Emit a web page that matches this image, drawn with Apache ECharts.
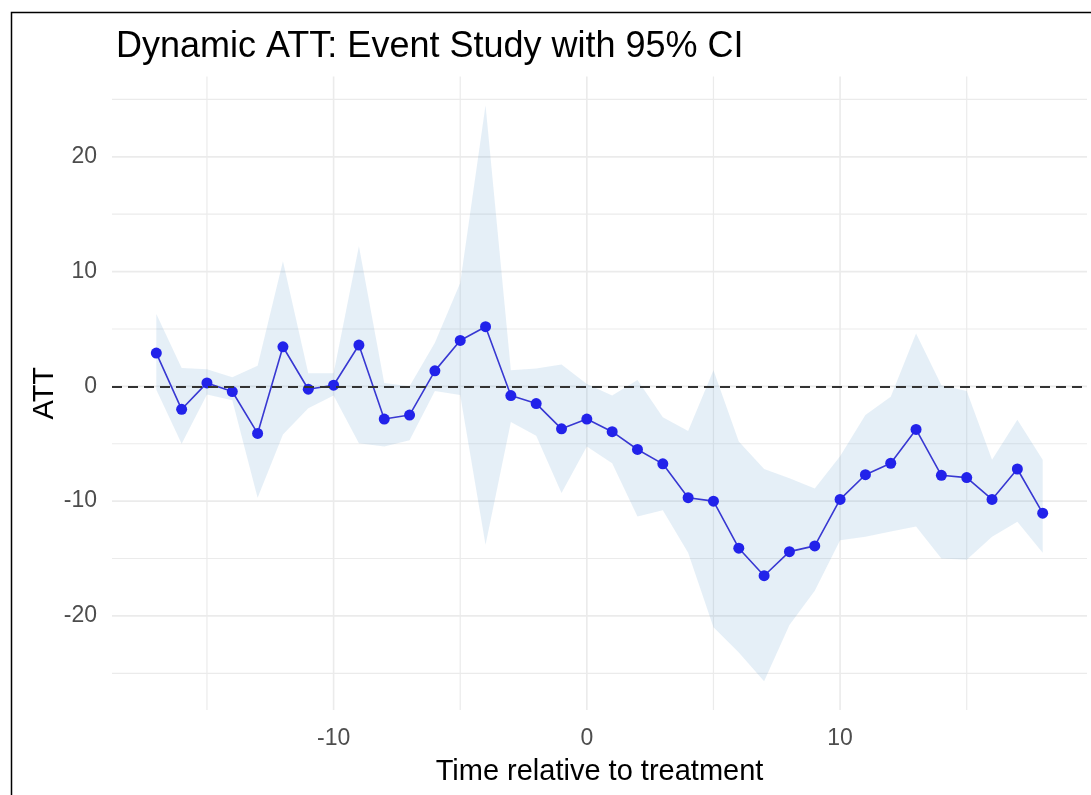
<!DOCTYPE html>
<html>
<head>
<meta charset="utf-8">
<script src="https://cdn.jsdelivr.net/npm/echarts@6/dist/echarts.min.js"></script>
<style>
html,body{margin:0;padding:0;background:#fff;}
#chart{width:1091px;height:795px;}
</style>
</head>
<body>
<div id="chart"></div>
<script>
// ---- data ----
const periods = [-17,-16,-15,-14,-13,-12,-11,-10,-9,-8,-7,-6,-5,-4,-3,-2,-1,0,1,2,3,4,5,6,7,8,9,10,11,12,13,14,15,16,17,18];
const att = [2.9,-2.0,0.3,-0.45,-4.1,3.45,-0.25,0.1,3.6,-2.85,-2.5,1.35,4.0,5.2,-0.8,-1.5,-3.7,-2.85,-3.95,-5.5,-6.75,-9.7,-10.0,-14.1,-16.5,-14.4,-13.9,-9.85,-7.7,-6.7,-3.75,-7.75,-7.95,-9.85,-7.2,-11.05];
const ciUpper = [6.3,1.6,1.5,0.8,1.8,10.9,1.15,1.15,12.2,0.3,0.0,3.8,9.0,24.5,1.4,1.55,1.9,0.2,-0.8,0.55,-2.7,-3.9,1.4,-4.8,-7.2,-8.0,-8.9,-6.1,-2.5,-0.9,4.6,0.1,-0.4,-6.4,-2.9,-6.4];
const ciLower = [-0.3,-5.0,-0.7,-1.2,-9.7,-4.2,-1.9,-0.8,-4.95,-5.25,-4.7,-0.4,-0.75,-13.8,-3.1,-4.3,-9.3,-5.25,-6.7,-11.35,-10.8,-14.5,-21.0,-23.2,-25.7,-20.8,-17.8,-13.4,-13.1,-12.65,-12.2,-15.0,-15.1,-13.1,-11.8,-14.5];
const xTicks = [-10, 0, 10];
const yTicks = [-20, -10, 0, 10, 20];
const xGridMajor = [-10, 0, 10];
const xGridMinor = [-15, -5, 5, 15];
const yGridMajor = [-20, -10, 0, 10, 20];
const yGridMinor = [-25, -15, -5, 5, 15, 25];
const referenceLine = 0;
const xRange = [-18.75, 19.75];
const yRange = [-28.2, 27];

// ---- build ----
const FONT = '"Liberation Sans", Arial, sans-serif';
const chart = echarts.init(document.getElementById('chart'), null, {renderer: 'canvas'});

const gridData = [];
yGridMajor.forEach(v => gridData.push(['h', v, 1.6]));
yGridMinor.forEach(v => gridData.push(['h', v, 1.2]));
xGridMajor.forEach(v => gridData.push(['v', v, 1.6]));
xGridMinor.forEach(v => gridData.push(['v', v, 1.2]));

const ribbonData = periods.map((t, i) => [t, ciLower[i], ciUpper[i]]);
const attPts = att.map((a, i) => [periods[i], a]);

const option = {
  animation: false,
  backgroundColor: '#ffffff',
  title: {
    text: 'Dynamic ATT: Event Study with 95% CI',
    left: 111, top: 24,
    textStyle: {fontFamily: FONT, fontSize: 36, fontWeight: 'normal', color: '#000000'}
  },
  grid: {left: 112, right: 4, top: 76.5, bottom: 85, containLabel: false},
  xAxis: {
    type: 'value', min: xRange[0], max: xRange[1],
    name: 'Time relative to treatment', nameLocation: 'middle', nameGap: 47,
    nameMoveOverlap: false,
    nameTextStyle: {fontFamily: FONT, fontSize: 29, color: '#000000'},
    axisLine: {show: false}, axisTick: {show: false}, splitLine: {show: false},
    axisLabel: {
      customValues: xTicks,
      formatter: v => (xTicks.indexOf(v) >= 0 ? String(v) : ''),
      fontFamily: FONT, fontSize: 23, color: '#4d4d4d', margin: 17
    }
  },
  yAxis: {
    type: 'value', min: yRange[0], max: yRange[1],
    name: 'ATT', nameLocation: 'middle', nameGap: 53,
    nameMoveOverlap: false,
    nameTextStyle: {fontFamily: FONT, fontSize: 29, color: '#000000'},
    axisLine: {show: false}, axisTick: {show: false}, splitLine: {show: false},
    axisLabel: {
      customValues: yTicks,
      formatter: v => (yTicks.indexOf(v) >= 0 ? String(v) : ''),
      fontFamily: FONT, fontSize: 23, color: '#4d4d4d', margin: 15
    }
  },
  graphic: [{
    type: 'rect', z: 100, silent: true,
    shape: {x: 11.5, y: 12.5, width: 1200, height: 900},
    style: {fill: 'none', stroke: '#000000', lineWidth: 1.5}
  }],
  series: [
    {
      type: 'custom', z: 1, silent: true,
      coordinateSystem: 'cartesian2d',
      data: gridData.map(d => [d[0] === 'h' ? xRange[0] : d[1], d[0] === 'h' ? d[1] : yRange[0], d[0] === 'h' ? 0 : 1, d[2]]),
      encode: {x: 0, y: 1},
      renderItem: function (params, api) {
        const isV = api.value(2) === 1;
        const w = api.value(3);
        let p1, p2;
        if (isV) {
          p1 = api.coord([api.value(0), yRange[0]]);
          p2 = api.coord([api.value(0), yRange[1]]);
        } else {
          p1 = api.coord([xRange[0], api.value(1)]);
          p2 = api.coord([xRange[1], api.value(1)]);
        }
        return {type: 'line', shape: {x1: p1[0], y1: p1[1], x2: p2[0], y2: p2[1]},
                style: {stroke: '#ebebeb', lineWidth: w}};
      }
    },
    {
      name: 'ci', type: 'custom', z: 2, silent: true,
      coordinateSystem: 'cartesian2d',
      data: ribbonData,
      encode: {x: 0, y: [1, 2]},
      renderItem: function (params, api) {
        if (params.dataIndex !== 0) return null;
        const pts = [];
        for (let i = 0; i < ribbonData.length; i++) pts.push(api.coord([ribbonData[i][0], ribbonData[i][2]]));
        for (let i = ribbonData.length - 1; i >= 0; i--) pts.push(api.coord([ribbonData[i][0], ribbonData[i][1]]));
        return {type: 'polygon', shape: {points: pts},
                style: {fill: 'rgba(100,160,210,0.17)', stroke: 'none'}};
      }
    },
    {
      name: 'ATT', type: 'line', z: 3,
      data: attPts,
      symbol: 'circle', symbolSize: 11, showAllSymbol: true,
      itemStyle: {color: '#2222ea'},
      lineStyle: {color: '#3838d2', width: 1.6},
      markLine: {
        silent: true, symbol: 'none', animation: false,
        label: {show: false},
        lineStyle: {color: '#333333', width: 2.2, type: [10, 6]},
        data: [{yAxis: referenceLine}]
      }
    }
  ]
};
chart.setOption(option);
</script>
</body>
</html>
